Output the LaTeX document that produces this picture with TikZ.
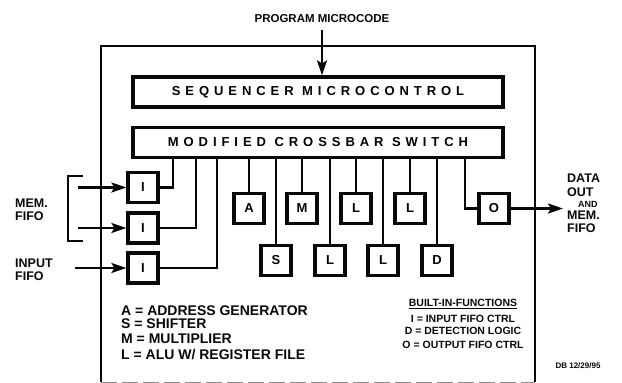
\documentclass[tikz,border=0pt]{standalone}
\usepackage{fontspec}
\setmainfont{Liberation Sans}
\newfontfamily\widefont[LetterSpace=38]{Liberation Sans}
\usepackage{tikz}
\usetikzlibrary{positioning, arrows.meta, calc}
\definecolor{ink}{RGB}{8,8,8}
\definecolor{haze}{RGB}{140,140,140}

\begin{document}
\begin{tikzpicture}[
  x=1pt, y=-1pt,
  frame/.style={draw=ink, line width=2.6pt},
  bar/.style={draw=ink, line width=3.2pt, minimum width=370pt,
              minimum height=30pt, inner sep=0pt,
              font=\widefont\bfseries\fontsize{13}{13}\selectfont},
  unit/.style={draw=ink, line width=3.2pt, minimum size=30pt,
               inner sep=0pt, font=\bfseries\fontsize{13}{13}\selectfont},
  wire/.style={draw=ink, line width=2.6pt},
  flow/.style={draw=ink, line width=2.6pt,
               -{Stealth[length=15pt, width=10pt, inset=3pt]}},
  side/.style={font=\bfseries\fontsize{12.5}{13.5}\selectfont,
               align=left, inner sep=0pt, text=ink},
  key/.style={font=\bfseries\fontsize{14}{14}\selectfont,
              align=left, inner sep=0pt, text=ink},
  fkey/.style={font=\bfseries\fontsize{10.5}{13}\selectfont,
               align=center, inner sep=0pt, text=ink}]
  \useasboundingbox (0,0) rectangle (622,383);
  % housing
  \draw[frame] (101,382) -- (101,46) -- (535,46) -- (535,382);
  \draw[haze, line width=0.9pt, dash pattern=on 16pt off 5pt] (101,382) -- (535,382);
  % microcode in
  \node[side, font=\bfseries\fontsize{11.5}{11.5}\selectfont] (prog) at (322,19) {PROGRAM MICROCODE};
  \node[bar] (seq) at (318,92) {SEQUENCER MICROCONTROL};
  \node[bar] (xbar) at (318,142.5) {MODIFIED CROSSBAR SWITCH};
  \draw[flow] ([yshift=-7pt]prog.south) -- (prog.south |- seq.north);
  % input fifo ctrl
  \node[unit] (in1) at (143,187.5) {I};
  \node[unit] (in2) at (143,228) {I};
  \node[unit] (in3) at (143,268) {I};
  % processing units
  \node[unit] (addr) at (249,208.5) {A};
  \node[unit] (mul)  at (302,208.5) {M};
  \node[unit] (alua) at (356,208.5) {L};
  \node[unit] (alub) at (410,208.5) {L};
  \node[unit] (shf)  at (276,260.5) {S};
  \node[unit] (aluc) at (330,260.5) {L};
  \node[unit] (alud) at (383,260.5) {L};
  \node[unit] (det)  at (437,260.5) {D};
  \node[unit] (outc) at (494,208.5) {O};
  % crossbar taps
  \coordinate (tap1) at (173,0);
  \coordinate (tap2) at (196,0);
  \coordinate (tap3) at (217,0);
  \coordinate (tap4) at (465,0);
  \draw[wire] (in1.east) -| (xbar.south -| tap1);
  \draw[wire] (in2.east) -| (xbar.south -| tap2);
  \draw[wire] (in3.east) -| (xbar.south -| tap3);
  \draw[wire] (xbar.south -| tap4) |- (outc.west);
  \foreach \u in {addr, mul, alua, alub, shf, aluc, alud, det}
    \draw[wire] (xbar.south -| \u.north) -- (\u.north);
  % fifo side
  \node[side, anchor=west] (memf) at (15,210) {MEM.\\FIFO};
  \node[side, anchor=west] (inpf) at (15,270) {INPUT\\FIFO};
  \draw[wire] (83,176) -- (68,176) -- (68,241) -- (83,241);
  \coordinate (mem1) at (78,187.5);
  \coordinate (mem2) at (78,228);
  \coordinate (inp) at (75,268);
  \draw[flow] (mem1) -- (in1.west);
  \draw[flow] (mem2) -- (in2.west);
  \draw[flow] (inp) -- (in3.west);
  % data out
  \node[side, anchor=north west] (dout) at (567,174)
    {DATA\\OUT\\[-2pt]\hspace*{11pt}{\fontsize{9}{9}\selectfont AND}\\[-2pt]MEM.\\FIFO};
  \coordinate (otip) at (563,208.5);
  \draw[flow] (outc.east) -- (otip);
  % legend
  \node[key, anchor=north west] (keyl) at (121,306)
    {A = ADDRESS GENERATOR\\[-1.5pt]S = SHIFTER\\[1.5pt]M = MULTIPLIER\\[2pt]L = ALU W/ REGISTER FILE};
  \node[fkey, anchor=north] (keyr) at (463,299)
    {\underline{BUILT-IN-FUNCTIONS}\\[3pt]I = INPUT FIFO CTRL\\[-1.5pt]D = DETECTION LOGIC\\[1pt]O = OUTPUT FIFO CTRL};
  \node[font=\bfseries\fontsize{8}{8}\selectfont, text=ink] (stamp) at (578,366) {DB 12/29/95};
\end{tikzpicture}
\end{document}
